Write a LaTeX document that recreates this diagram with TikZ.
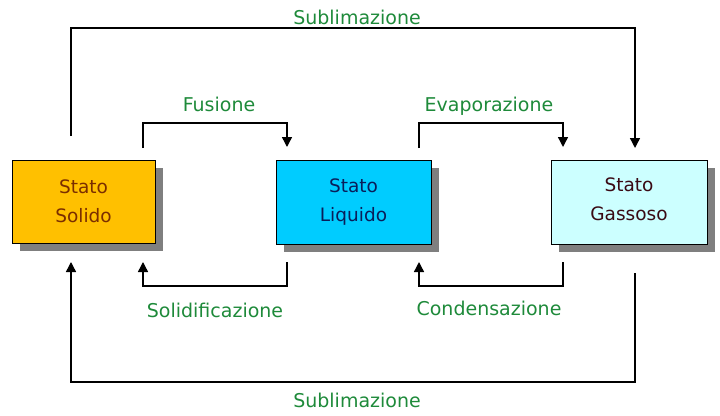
\documentclass[tikz,border=0pt]{standalone}
\usepackage{fontspec}
\setmainfont{DejaVu Sans}
\usetikzlibrary{arrows.meta}
\definecolor{lblgreen}{HTML}{1E8A3A}
\definecolor{solidfill}{HTML}{FFC000}
\definecolor{liqfill}{HTML}{00CCFF}
\definecolor{gasfill}{HTML}{CCFFFF}
\definecolor{solidtxt}{HTML}{7A2E00}
\definecolor{liqtxt}{HTML}{0A1E5A}
\definecolor{gastxt}{HTML}{3A0A14}
\definecolor{shadowgray}{HTML}{7F7F7F}
\tikzset{
  statebox/.style={draw=black, line width=0.9pt, rectangle, align=center,
    font=\fontsize{18.5}{29}\selectfont,
    inner sep=0pt},
  conn/.style={line width=1.4pt, draw=black},
  arr/.style={conn, -{Triangle[length=10pt,width=10pt]}},
  lbl/.style={text=lblgreen, font=\fontsize{19}{20}\selectfont, inner sep=0pt}
}
\begin{document}
\begin{tikzpicture}[x=1pt,y=-1pt]
\useasboundingbox (0,0) rectangle (720,415);
% shadows
\fill[shadowgray] (20,168) rectangle (163,251);
\fill[shadowgray] (284,168) rectangle (439,252);
\fill[shadowgray] (559,168) rectangle (715,252);
% boxes
\node[statebox, fill=solidfill, text=solidtxt, minimum width=143pt, minimum height=83pt] (solid) at (83.5,201.5) {Stato\\Solido};
\node[statebox, fill=liqfill, text=liqtxt, minimum width=155pt, minimum height=84pt] (liquid) at (353.5,202) {Stato\\Liquido};
\node[statebox, fill=gasfill, text=gastxt, minimum width=156pt, minimum height=84pt, text depth=6pt] (gas) at (629,202) {Stato\\Gassoso};
% connector end points
\coordinate (subTa) at (71,136);
\coordinate (subTb) at (635,148);
\coordinate (fusA) at (143,148);
\coordinate (fusB) at (287,147);
\coordinate (evaA) at (419,148);
\coordinate (evaB) at (563,147);
\coordinate (solA) at (287,262);
\coordinate (solB) at (143,262);
\coordinate (conA) at (563,262);
\coordinate (conB) at (419,262);
\coordinate (subBa) at (635,273);
\coordinate (subBb) at (71,262);
% connectors
\draw[arr] (subTa) -- (71,28) -- (635,28) -- (subTb);
\draw[arr] (fusA) -- (143,123) -- (287,123) -- (fusB);
\draw[arr] (evaA) -- (419,123) -- (563,123) -- (evaB);
\draw[arr] (solA) -- (287,286) -- (143,286) -- (solB);
\draw[arr] (conA) -- (563,286) -- (419,286) -- (conB);
\draw[arr] (subBa) -- (635,382) -- (71,382) -- (subBb);
% labels
\node[lbl] (lsubT) at (357,17) {Sublimazione};
\node[lbl] (lfus) at (219,104) {Fusione};
\node[lbl] (leva) at (489,106) {Evaporazione};
\node[lbl] (lsol) at (215,310) {Solidificazione};
\node[lbl] (lcon) at (489,308) {Condensazione};
\node[lbl] (lsubB) at (357,400) {Sublimazione};
\end{tikzpicture}
\end{document}
